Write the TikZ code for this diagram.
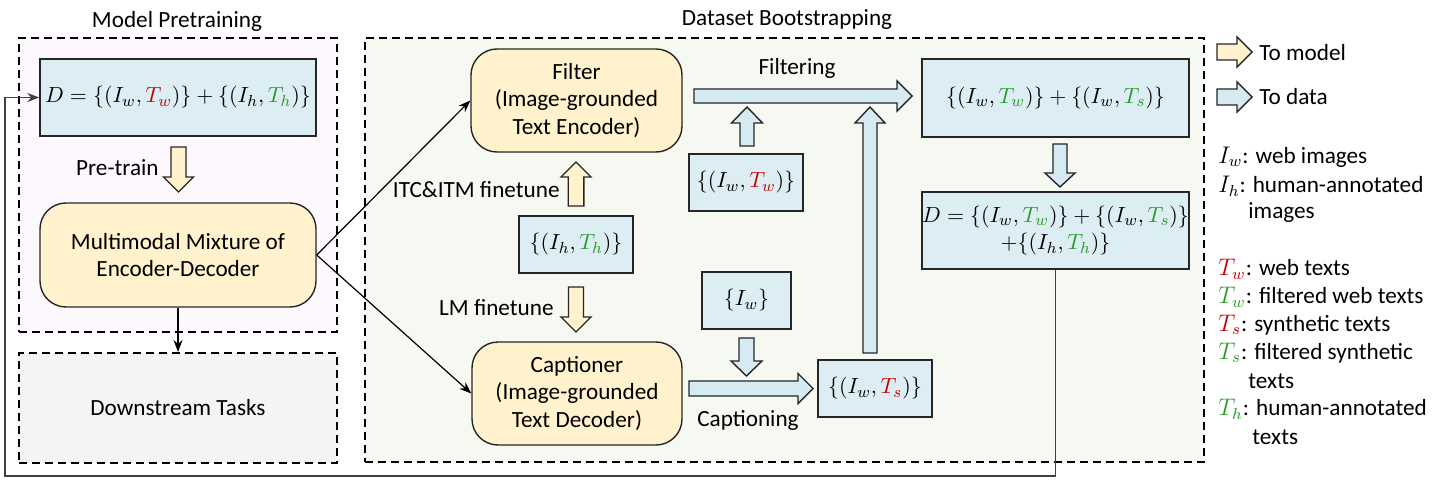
\documentclass[tikz,border=0pt]{standalone}
\usepackage{fontspec}
\setmainfont{Carlito}
\usetikzlibrary{calc,arrows.meta}
\definecolor{boxblue}{RGB}{220,237,243}
\definecolor{arrblue}{RGB}{214,234,242}
\definecolor{boxyellow}{RGB}{255,242,204}
\definecolor{redt}{RGB}{200,0,0}
\definecolor{greent}{RGB}{40,155,40}
\definecolor{prebg}{RGB}{253,248,253}
\definecolor{bootbg}{RGB}{245,249,242}
\definecolor{downbg}{RGB}{244,244,244}
% block arrow: #1 style, #2 start, #3 tip, #4 half shaft, #5 half head, #6 head length
\newcommand\blockarr[6]{%
  \draw[#1] ($(#2)!#4!90:(#3)$) -- ($(#3)!#6!(#2)!#4!-90:(#2)$) -- ($(#3)!#6!(#2)!#5!-90:(#2)$)
    -- (#3) -- ($(#3)!#6!(#2)!#5!90:(#2)$) -- ($(#3)!#6!(#2)!#4!90:(#2)$) -- ($(#2)!#4!-90:(#3)$) -- cycle;}
\begin{document}
\begin{tikzpicture}[x=0.5pt,y=-0.5pt,
  every node/.style={font=\fontsize{11.6}{13.6}\selectfont},
  box/.style={draw=black!85, line width=0.7pt, fill=boxblue, inner sep=0pt, align=center, font=\fontsize{10.8}{13.5}\selectfont},
  model/.style={draw=black!85, line width=0.7pt, fill=boxyellow, rounded corners=13pt, align=center, inner sep=0pt},
  region/.style={draw=black, line width=1pt, dash pattern=on 4pt off 2.5pt, inner sep=0pt},
  yarr/.style={draw=black!85, line width=0.7pt, fill=boxyellow},
  barr/.style={draw=black!85, line width=0.7pt, fill=arrblue},
  conn/.style={draw=black, line width=0.6pt, -{Stealth[length=6pt,width=4.5pt]}},
  lbl/.style={inner sep=0pt}]
\useasboundingbox (0,0) rectangle (1440,481);
% regions
\node[region, fill=prebg, minimum width=159pt, minimum height=147pt] (pre) at (178,185) {};
\node[region, fill=downbg, minimum width=159pt, minimum height=55pt] (down) at (178,408) {Downstream Tasks};
\node[region, fill=bootbg, minimum width=419.5pt, minimum height=212pt] (boot) at (784.5,250) {};
\node[lbl] (t1) at (177,21) {Model Pretraining};
\node[lbl] (t2) at (787,20) {Dataset Bootstrapping};
% model pretraining
\node[box, minimum width=138pt, minimum height=38.5pt] (dbox) at (178,97.5)
  {$D=\{(I_w,\textcolor{redt}{T_w})\}+\{(I_h,\textcolor{greent}{T_h})\}$};
\node[model, minimum width=138pt, minimum height=52pt] (mm) at (178,255)
  {Multimodal Mixture of\\Encoder-Decoder};
% bootstrapping
\node[model, minimum width=105.5pt, minimum height=51.5pt] (filter) at (576.5,100.5)
  {Filter\\(Image-grounded\\Text Encoder)};
\node[model, minimum width=105pt, minimum height=51.5pt] (cap) at (577,393.5)
  {Captioner\\(Image-grounded\\Text Decoder)};
\node[box, minimum width=57pt, minimum height=28.5pt] (ihth) at (576,244.5)
  {$\{(I_h,\textcolor{greent}{T_h})\}$};
\node[box, minimum width=57pt, minimum height=28.5pt] (iwtw) at (746,182.5)
  {$\{(I_w,\textcolor{redt}{T_w})\}$};
\node[box, minimum width=44.5pt, minimum height=28.5pt] (iw) at (746.5,300.5)
  {$\{I_w\}$};
\node[box, minimum width=57pt, minimum height=28.5pt] (iwts) at (875,388.5)
  {$\{(I_w,\textcolor{redt}{T_s})\}$};
\node[box, minimum width=133.5pt, minimum height=39pt] (filt) at (1055.5,98)
  {$\{(I_w,\textcolor{greent}{T_w})\}+\{(I_w,\textcolor{greent}{T_s})\}$};
\node[box, minimum width=133.5pt, minimum height=38.5pt] (dfin) at (1055.5,230.5)
  {$D=\{(I_w,\textcolor{greent}{T_w})\}+\{(I_w,\textcolor{greent}{T_s})\}$\\$+\{(I_h,\textcolor{greent}{T_h})\}$};
% labels
\node[lbl, anchor=east] (lpre) at (159,168) {Pre-train};
\node[lbl, anchor=east] (litc) at (560,190) {ITC\&ITM finetune};
\node[lbl, anchor=east] (llm) at (554,308) {LM finetune};
\node[lbl] (lfilt) at (797,68) {Filtering};
\node[lbl] (lcap) at (748,420) {Captioning};
% block arrow end points
\coordinate (a1) at (178.5,147); \coordinate (b1) at (178.5,192);
\coordinate (a2) at (576,206);   \coordinate (b2) at (576,162);
\coordinate (a3) at (576,287);   \coordinate (b3) at (576,332);
\coordinate (a4) at (694,96);    \coordinate (b4) at (912,96);
\coordinate (a5) at (747,146);   \coordinate (b5) at (747,107);
\coordinate (a6) at (746.5,338); \coordinate (b6) at (746.5,376);
\coordinate (a7) at (689,388.5); \coordinate (b7) at (813,388.5);
\coordinate (a8) at (870,353);   \coordinate (b8) at (870,107);
\coordinate (a9) at (1060,144);  \coordinate (b9) at (1060,187);
\coordinate (a10) at (1217,52);  \coordinate (b10) at (1252,52);
\coordinate (a11) at (1217,97);  \coordinate (b11) at (1252,97);
\blockarr{yarr}{a1}{b1}{3.75pt}{7.5pt}{7.5pt}
\blockarr{yarr}{a2}{b2}{3.9pt}{7.5pt}{7.5pt}
\blockarr{yarr}{a3}{b3}{3.75pt}{7.5pt}{7.5pt}
\blockarr{barr}{a4}{b4}{3.5pt}{7.5pt}{7.5pt}
\blockarr{barr}{a5}{b5}{3.5pt}{7.75pt}{8pt}
\blockarr{barr}{a6}{b6}{3.75pt}{7.75pt}{7.5pt}
\blockarr{barr}{a7}{b7}{3.75pt}{7.5pt}{7.5pt}
\blockarr{barr}{a8}{b8}{3.5pt}{7.5pt}{8pt}
\blockarr{barr}{a9}{b9}{3.5pt}{7.5pt}{7pt}
\blockarr{yarr}{a10}{b10}{4pt}{7.5pt}{7.5pt}
\blockarr{barr}{a11}{b11}{4pt}{7.5pt}{7.5pt}
% thin connectors
\draw[conn] (mm.east) -- (filter.west);
\draw[conn] (mm.east) -- (cap.west);
\draw[conn] (mm.south) -- (down.north);
\draw[conn, draw=black!75] (dfin.south) |- (5,476) |- (dbox.west);
% legend
\node[lbl, anchor=west] (lg1) at (1259,53) {To model};
\node[lbl, anchor=west] (lg2) at (1259,97) {To data};
\node[lbl, anchor=west] (lg3) at (1218,157) {$I_w$: web images};
\node[lbl, anchor=west] (lg4) at (1218,186) {$I_h$: human-annotated};
\node[lbl, anchor=west] (lg5) at (1248,213) {images};
\node[lbl, anchor=west] (lg6) at (1218,269) {$\textcolor{redt}{T_w}$: web texts};
\node[lbl, anchor=west] (lg7) at (1218,297) {$\textcolor{greent}{T_w}$: filtered web texts};
\node[lbl, anchor=west] (lg8) at (1218,325) {$\textcolor{redt}{T_s}$: synthetic texts};
\node[lbl, anchor=west] (lg9) at (1218,353) {$\textcolor{greent}{T_s}$: filtered synthetic};
\node[lbl, anchor=west] (lg10) at (1248,381) {texts};
\node[lbl, anchor=west] (lg11) at (1218,409) {$\textcolor{greent}{T_h}$: human-annotated};
\node[lbl, anchor=west] (lg12) at (1252,437) {texts};
\end{tikzpicture}
\end{document}
